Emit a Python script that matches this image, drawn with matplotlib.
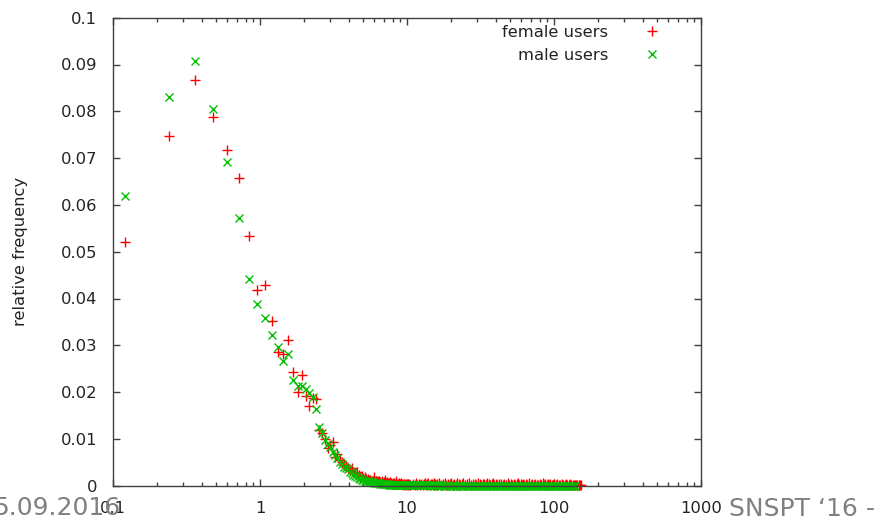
import matplotlib
matplotlib.use("Agg")
import matplotlib.pyplot as plt
from matplotlib.ticker import FuncFormatter, LogLocator, NullFormatter

# histogram bins of length 0.12, first 88 bins, then a sparser tail
bin_width = 0.12

female_head = [
    0.0520, 0.0747, 0.0867, 0.0787, 0.0717, 0.0657, 0.0534, 0.0419, 0.0429, 0.0351,
    0.0286, 0.0281, 0.0311, 0.0244, 0.0201, 0.0237, 0.0192, 0.0170, 0.0187, 0.0185,
    0.0119, 0.0112, 0.0100, 0.0080, 0.0087, 0.0094, 0.0062, 0.0068, 0.0055, 0.0050,
    0.0044, 0.0040, 0.0037, 0.0034, 0.0037, 0.0030, 0.0027, 0.0030, 0.0022, 0.0019,
    0.0021, 0.0016, 0.0018, 0.0014, 0.0015, 0.0012, 0.0013, 0.0010, 0.0011, 0.0019,
    0.0009, 0.0010, 0.0008, 0.0011, 0.0007, 0.0009, 0.0006, 0.0008, 0.0012, 0.0006,
    0.0007, 0.0005, 0.0006, 0.0008, 0.0005, 0.0004, 0.0006, 0.0005, 0.0004, 0.0009,
    0.0004, 0.0003, 0.0005, 0.0004, 0.0003, 0.0006, 0.0003, 0.0002, 0.0004, 0.0003,
    0.0002, 0.0004, 0.0002, 0.0003, 0.0001, 0.0003, 0.0002, 0.0001,
]

male_head = [
    0.0620, 0.0831, 0.0907, 0.0805, 0.0691, 0.0571, 0.0441, 0.0389, 0.0359, 0.0321,
    0.0296, 0.0267, 0.0281, 0.0226, 0.0212, 0.0213, 0.0206, 0.0199, 0.0190, 0.0164,
    0.0126, 0.0113, 0.0098, 0.0090, 0.0083, 0.0072, 0.0066, 0.0059, 0.0051, 0.0047,
    0.0041, 0.0037, 0.0035, 0.0030, 0.0027, 0.0023, 0.0021, 0.0019, 0.0016, 0.0014,
    0.0013, 0.0012, 0.0011, 0.0010, 0.0009, 0.0009, 0.0008, 0.0007, 0.0007, 0.0006,
    0.0006, 0.0005, 0.0005, 0.0005, 0.0004, 0.0004, 0.0004, 0.0003, 0.0003, 0.0003,
    0.0003, 0.0003, 0.0002, 0.0002, 0.0002, 0.0002, 0.0002, 0.0002, 0.0001, 0.0001,
    0.0001, 0.0001, 0.0001, 0.0001, 0.0001, 0.0001, 0.0001, 0.0001, 0.0001, 0.0001,
    0.0001, 0.0001, 0.0001, 0.0001, 0.0001, 0.0001, 0.0001, 0.0001,
]

# long tail: merged bins between 11 and 152
tail_x = [
    11, 11.25, 11.5, 11.75, 12, 12.25, 12.5, 12.75, 13, 13.25, 13.5, 13.75,
    14, 14.25, 14.5, 14.75, 15, 15.25, 15.5, 15.75, 16,
    16.5, 17, 17.5, 18, 18.5, 19, 19.5, 20, 20.5, 21, 21.5, 22, 22.5, 23, 23.5, 24,
    24.8, 25.6, 26.4, 27.2, 28, 28.8, 29.6, 30.4, 31.2, 32, 32.8, 33.6, 34.4,
    35.2, 36, 36.8, 37.6, 38.4, 39.2, 40,
    41.2, 42.4, 43.6, 44.8, 46, 47.2, 48.4, 49.6, 50.8, 52, 53.2, 54.4, 55.6,
    56.8, 58, 59.2, 60.4, 61.6, 62.8, 64,
    65.8, 67.6, 69.4, 71.2, 73, 74.8, 76.6, 78.4, 80.2, 82, 83.8, 85.6, 87.4,
    89.2, 91, 92.8, 94.6, 96.4, 98.2, 100,
    102.6, 105.2, 107.8, 110.4, 113, 115.6, 118.2, 120.8, 123.4, 126, 128.6,
    131.2, 133.8, 136.4, 139, 141.6, 144.2, 146.8, 149.4, 152,
]

female_tail = [
    0.0003, 0.0002, 0.0005, 0.0002, 0.0003, 0.0001, 0.0004, 0.0002, 0.0003, 0.0006,
    0.0002, 0.0003, 0.0005, 0.0002, 0.0004, 0.0003, 0.0002, 0.0005, 0.0003, 0.0002,
    0.0004, 0.0006, 0.0002, 0.0003, 0.0005, 0.0002, 0.0004, 0.0003, 0.0006, 0.0002,
    0.0003, 0.0002, 0.0005, 0.0003, 0.0002, 0.0004, 0.0006, 0.0002, 0.0003, 0.0005,
    0.0002, 0.0003, 0.0004, 0.0002, 0.0005, 0.0003, 0.0002, 0.0004, 0.0003, 0.0002,
    0.0005, 0.0003, 0.0002, 0.0004, 0.0006, 0.0002, 0.0003, 0.0002, 0.0004, 0.0003,
    0.0002, 0.0003, 0.0002, 0.0005, 0.0002, 0.0003, 0.0002, 0.0004, 0.0002, 0.0003,
    0.0006, 0.0002, 0.0003, 0.0002, 0.0004, 0.0002, 0.0003, 0.0002, 0.0005, 0.0002,
    0.0003, 0.0002, 0.0004, 0.0002, 0.0002, 0.0003, 0.0002, 0.0005, 0.0002, 0.0003,
    0.0002, 0.0004, 0.0002, 0.0003, 0.0002, 0.0002, 0.0004, 0.0002, 0.0003, 0.0002,
    0.0002, 0.0003, 0.0002, 0.0002, 0.0004, 0.0002, 0.0002, 0.0003, 0.0002, 0.0002,
    0.0002, 0.0001, 0.0002, 0.0001, 0.0002, 0.0001, 0.0001,
]

male_tail = [
    0.0001, 0.0001, 0.0001, 0.0001, 0.0001, 0.0001, 0.0001, 0.0001, 0.0001, 0.0001,
    0.0001, 0.0001, 0.0001, 0.0001, 0.0000, 0.0001, 0.0001, 0.0000, 0.0001, 0.0001,
    0.0000, 0.0001, 0.0000, 0.0001, 0.0000, 0.0000, 0.0001, 0.0000, 0.0000, 0.0001,
    0.0000, 0.0000, 0.0000, 0.0001, 0.0000, 0.0000, 0.0000, 0.0000, 0.0000, 0.0000,
    0.0000, 0.0000, 0.0000, 0.0000, 0.0000, 0.0000, 0.0000, 0.0000, 0.0000, 0.0000,
    0.0000, 0.0000, 0.0000, 0.0000, 0.0000, 0.0000, 0.0000, 0.0000, 0.0000, 0.0000,
    0.0000, 0.0000, 0.0000, 0.0000, 0.0000, 0.0000, 0.0000, 0.0000, 0.0000, 0.0000,
    0.0000, 0.0000, 0.0000, 0.0000, 0.0000, 0.0000, 0.0000, 0.0000, 0.0000, 0.0000,
    0.0000, 0.0000, 0.0000, 0.0000, 0.0000, 0.0000, 0.0000, 0.0000, 0.0000, 0.0000,
    0.0000, 0.0000, 0.0000, 0.0000, 0.0000, 0.0000, 0.0000, 0.0000, 0.0000, 0.0000,
    0.0000, 0.0000, 0.0000, 0.0000, 0.0000, 0.0000, 0.0000, 0.0000, 0.0000, 0.0000,
    0.0000, 0.0000,
]

y_ticks = [0, 0.01, 0.02, 0.03, 0.04, 0.05, 0.06, 0.07, 0.08, 0.09, 0.1]

# bin centres for the head part
head_x = [bin_width * (i + 1) for i in range(len(female_head))]

female_x = head_x + tail_x[:len(female_tail)]
female_y = female_head + female_tail
male_x = head_x + tail_x[:len(male_tail)]
male_y = male_head + male_tail

plt.rcParams['font.family'] = ['DejaVu Sans']
font_size = 11.8
axis_color = '#404040'

fig = plt.figure(figsize=(8.84, 5.22), dpi=100)
ax = fig.add_axes([113 / 884, 1 - 485.7 / 522, 588 / 884, 468 / 522])

ax.plot(female_x, female_y, linestyle='none', marker='+', markersize=6.5,
        markeredgewidth=1.0, color='#ff0000', label='female users', clip_on=False)
ax.plot(male_x, male_y, linestyle='none', marker='x', markersize=6.0,
        markeredgewidth=1.0, color='#00c000', label='male users', clip_on=False)

ax.set_xscale('log')
ax.set_xlim(0.1, 1000)
ax.set_ylim(0, 0.1)
ax.set_yticks(y_ticks)
ax.yaxis.set_major_formatter(FuncFormatter(lambda v, pos: '%g' % round(v, 3)))
ax.xaxis.set_major_locator(LogLocator(base=10, numticks=10))
ax.xaxis.set_minor_locator(LogLocator(base=10, subs=range(2, 10), numticks=10))
ax.xaxis.set_minor_formatter(NullFormatter())
ax.xaxis.set_major_formatter(FuncFormatter(lambda v, pos: '%g' % v))

for s in ax.spines.values():
    s.set_color(axis_color)
    s.set_linewidth(1.0)
    s.set_zorder(5)

ax.tick_params(which='both', direction='in', top=True, right=True,
               color=axis_color, width=1.0, labelcolor='#222222',
               labelsize=font_size)
ax.tick_params(which='major', length=5)
ax.tick_params(which='minor', length=3)
ax.tick_params(axis='y', pad=11.5)
ax.tick_params(axis='x', pad=11)

ax.set_ylabel('relative frequency', fontsize=font_size, color='#222222')
ax.yaxis.set_label_coords(-0.145, 0.5)

leg = ax.legend(loc='upper right', bbox_to_anchor=(0.972, 0.984),
                frameon=False, markerfirst=False, handlelength=4,
                handletextpad=0.66, borderpad=0, borderaxespad=0,
                labelspacing=0.45, fontsize=font_size)
for t in leg.get_texts():
    t.set_color('#222222')

# slide footer around the chart
fig.text(120 / 884, 1 - 515 / 522, '5.09.2016', ha='right', va='baseline',
         fontsize=18, color='#808080',
         family=['Liberation Sans Narrow', 'DejaVu Sans'])
fig.text(729 / 884, 1 - 516 / 522, 'SNSPT \u201816 -', ha='left', va='baseline',
         fontsize=18, color='#808080',
         family=['Liberation Sans Narrow', 'DejaVu Sans'])

fig.savefig('out.png', dpi=100)
